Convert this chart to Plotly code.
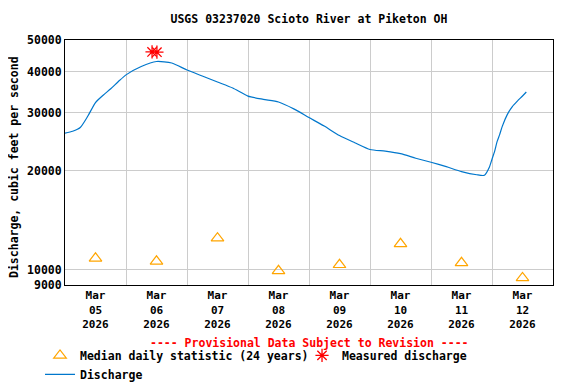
import plotly.graph_objects as go

# ---- data ----
discharge_times = [
    "2026-03-05 00:00", "2026-03-05 03:00", "2026-03-05 06:00", "2026-03-05 09:00",
    "2026-03-05 12:00", "2026-03-05 15:00", "2026-03-05 18:00", "2026-03-05 21:00",
    "2026-03-06 00:00", "2026-03-06 06:00", "2026-03-06 12:00", "2026-03-06 18:00",
    "2026-03-07 00:00", "2026-03-07 06:00", "2026-03-07 12:00", "2026-03-07 18:00",
    "2026-03-08 00:00", "2026-03-08 06:00", "2026-03-08 12:00", "2026-03-08 18:00",
    "2026-03-09 00:00", "2026-03-09 06:00", "2026-03-09 12:00", "2026-03-09 18:00",
    "2026-03-10 00:00", "2026-03-10 06:00", "2026-03-10 12:00", "2026-03-10 18:00",
    "2026-03-11 00:00", "2026-03-11 06:00", "2026-03-11 12:00", "2026-03-11 18:00",
    "2026-03-11 21:00", "2026-03-11 23:00", "2026-03-12 00:00", "2026-03-12 01:00",
    "2026-03-12 02:00", "2026-03-12 03:00", "2026-03-12 04:00", "2026-03-12 06:00",
    "2026-03-12 08:00", "2026-03-12 10:00", "2026-03-12 12:00", "2026-03-12 13:30",
]
discharge_values = [
    26050, 26400, 27100, 29370,
    32260, 33960, 35550, 37380,
    39170, 41520, 43010, 42560,
    40510, 38860, 37260, 35730,
    33770, 33000, 32390, 30870,
    29050, 27370, 25610, 24370,
    23240, 22960, 22560, 21860,
    21250, 20600, 19910, 19470,
    19400, 20570, 21710, 22880,
    24550, 25780, 27270, 29660,
    31370, 32610, 33780, 34740,
]

median_dates = ["2026-03-05 12:00", "2026-03-06 12:00", "2026-03-07 12:00", "2026-03-08 12:00",
                "2026-03-09 12:00", "2026-03-10 12:00", "2026-03-11 12:00", "2026-03-12 12:00"]
median_values = [10850, 10620, 12490, 9940, 10370, 12010, 10510, 9460]

measured_times = ["2026-03-06 10:15", "2026-03-06 12:10"]
measured_values = [46000, 45900]

day_ticks = median_dates
day_labels = ["Mar<br>05<br>2026", "Mar<br>06<br>2026", "Mar<br>07<br>2026", "Mar<br>08<br>2026",
              "Mar<br>09<br>2026", "Mar<br>10<br>2026", "Mar<br>11<br>2026", "Mar<br>12<br>2026"]
day_bounds = ["2026-03-05", "2026-03-06", "2026-03-07", "2026-03-08", "2026-03-09",
              "2026-03-10", "2026-03-11", "2026-03-12", "2026-03-13"]
y_ticks = [9000, 10000, 20000, 30000, 40000, 50000]
y_labels = ["9000", "10000", "20000", "30000", "40000", "50000"]

FONT = "DejaVu Sans Mono"

fig = go.Figure()
fig.add_trace(go.Scatter(
    x=median_dates, y=median_values, mode="markers",
    name="Median daily statistic (24 years)",
    marker=dict(symbol="triangle-up-open", size=11, color="#FFA500", line=dict(width=1.2, color="#FFA500")),
))
fig.add_trace(go.Scatter(
    x=measured_times, y=measured_values, mode="markers",
    name="Measured discharge",
    marker=dict(symbol="asterisk-open", size=11, color="#FF0000", line=dict(width=1.3, color="#FF0000")),
))
fig.add_trace(go.Scatter(
    x=discharge_times, y=discharge_values, mode="lines",
    name="Discharge",
    line=dict(color="#0077CC", width=1.2, shape="spline", smoothing=0.6),
))

# the page body adds an 8px offset, so the figure is 568x376 and margins are shifted
fig.update_layout(
    width=568, height=376,
    margin=dict(l=57, r=23, t=32, b=99, autoexpand=False),
    paper_bgcolor="white", plot_bgcolor="white",
    font=dict(family=FONT, size=11.5, color="black", weight="bold"),
    title=dict(text="USGS 03237020 Scioto River at Piketon OH", x=0.5, xref="paper",
               y=0.9707, yref="container", yanchor="middle",
               font=dict(family=FONT, size=11.5, color="black", weight="bold")),
    showlegend=True,
    legend=dict(orientation="h", x=-0.0512, xanchor="left", y=-0.228, yanchor="top",
                font=dict(family=FONT, size=11.5, color="black", weight="bold"),
                entrywidth=217, entrywidthmode="pixels", traceorder="normal",
                bgcolor="rgba(0,0,0,0)"),
    annotations=[
        dict(text="---- Provisional Data Subject to Revision ----",
             x=0.5, xref="paper", y=-0.237, yref="paper", yanchor="middle",
             showarrow=False,
             font=dict(family=FONT, size=11.5, color="#FF0000", weight="bold")),
        dict(text="Discharge, cubic feet per second", textangle=-90,
             x=-0.1035, xref="paper", xanchor="center",
             y=0.4837, yref="paper", yanchor="middle", showarrow=False,
             font=dict(family=FONT, size=11.5, color="black", weight="bold")),
    ],
)
fig.update_xaxes(
    type="date", range=["2026-03-05", "2026-03-13"],
    tickvals=day_ticks, ticktext=day_labels, ticks="", showgrid=False,
    minor=dict(tickvals=day_bounds, showgrid=True, gridcolor="#CCCCCC", gridwidth=1, ticks=""),
    showline=True, linecolor="black", linewidth=1, mirror=True, zeroline=False,
    automargin=False,
    tickfont=dict(family=FONT, size=11, color="black", weight="bold"),
)
fig.update_yaxes(
    type="log", range=[3.9542425, 4.69897],
    tickvals=y_ticks, ticktext=y_labels, ticks="",
    showgrid=True, gridcolor="#CCCCCC", gridwidth=1,
    showline=True, linecolor="black", linewidth=1, mirror=True, zeroline=False,
    automargin=False,
    tickfont=dict(family=FONT, size=11.5, color="black", weight="bold"),
)

fig.write_html("out.html")
